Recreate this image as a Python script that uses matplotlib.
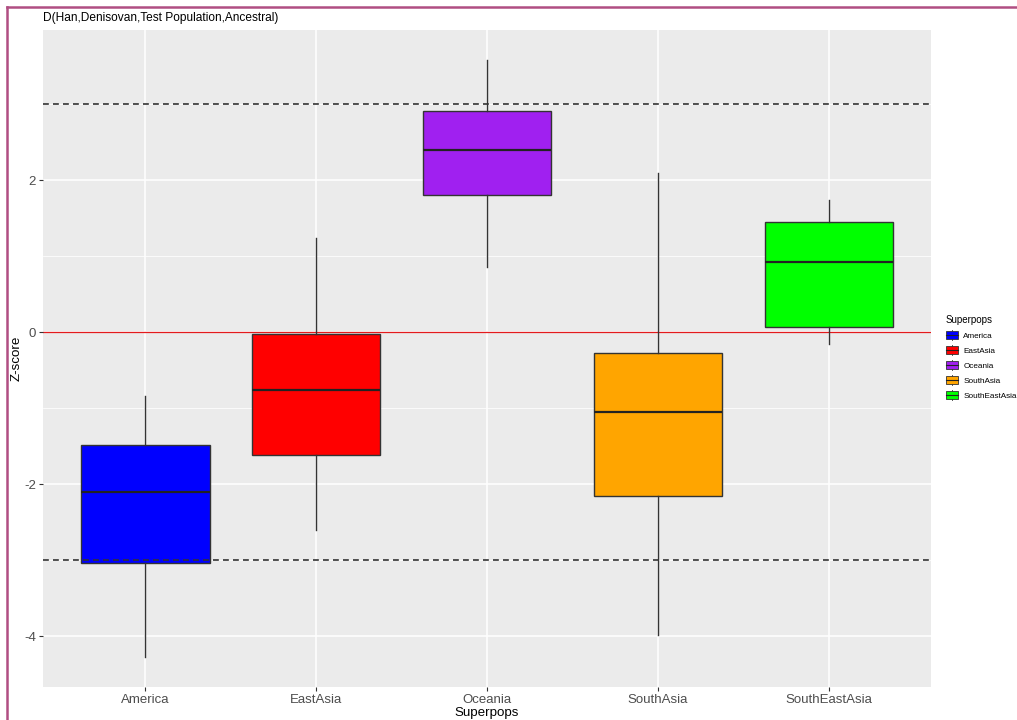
import matplotlib
matplotlib.use("Agg")
import matplotlib.pyplot as plt
from matplotlib.lines import Line2D
from matplotlib.patches import Rectangle
from matplotlib.legend_handler import HandlerBase

plt.rcParams['font.family'] = ['Liberation Sans', 'DejaVu Sans']

# Box summaries per super-population (Z-scores)
superpops = ["America", "EastAsia", "Oceania", "SouthAsia", "SouthEastAsia"]
whisker_low = [-4.27, -2.605, 0.85, -3.99, -0.16]
q1 = [-3.035, -1.612, 1.80, -2.155, 0.072]
median = [-2.10, -0.76, 2.398, -1.053, 0.923]
q3 = [-1.485, -0.026, 2.908, -0.28, 1.447]
whisker_high = [-0.845, 1.235, 3.58, 2.095, 1.737]
fills = ["#0000FF", "#FF0000", "#A020F0", "#FFA500", "#00FF00"]

threshold_lines = [-3, 3]
y_ticks = [-4, -2, 0, 2]

title = "D(Han,Denisovan,Test Population,Ancestral)"
x_label = "Superpops"
y_label = "Z-score"
legend_title = "Superpops"

W, H = 1017, 720
fig = plt.figure(figsize=(W / 100, H / 100), dpi=100)
ax = fig.add_axes([43 / W, 1 - 687 / H, 888 / W, 657 / H])
ax.set_facecolor("#EBEBEB")

n = len(superpops)
positions = list(range(1, n + 1))
stats = []
for i in range(n):
    stats.append(dict(med=median[i], q1=q1[i], q3=q3[i],
                      whislo=whisker_low[i], whishi=whisker_high[i],
                      fliers=[], label=superpops[i]))

# grid
for y in [-4, -3, -2, -1, 0, 1, 2, 3]:
    major = y in y_ticks
    ax.axhline(y, color="white", lw=1.1 if major else 0.55, zorder=0.5)
for x in positions:
    ax.axvline(x, color="white", lw=1.1, zorder=0.5)

bp = ax.bxp(stats, positions=positions, widths=0.75, patch_artist=True,
            showcaps=False, showfliers=False, manage_ticks=False,
            boxprops=dict(edgecolor="#333333", linewidth=1.0),
            whiskerprops=dict(color="#333333", linewidth=1.0),
            medianprops=dict(color="#222222", linewidth=1.6),
            zorder=2)
for patch, c in zip(bp["boxes"], fills):
    patch.set_facecolor(c)

# reference lines
for t in threshold_lines:
    ax.axhline(t, color="#333333", lw=1.2, ls=(0, (3.5, 2.5)), zorder=3)
ax.axhline(0, color="#E31A1C", lw=0.9, zorder=1.5)

ax.set_xlim(0.4, n + 0.6)
ax.set_ylim(-4.671, 3.974)
ax.set_xticks(positions)
ax.set_xticklabels(superpops)
ax.set_yticks(y_ticks)
ax.set_yticklabels([str(v) for v in y_ticks])
ax.tick_params(axis="both", colors="#333333", length=3, width=0.8,
               labelsize=9.5, labelcolor="#4D4D4D", pad=2)
for s in ax.spines.values():
    s.set_visible(False)

ax.set_xlabel(x_label, fontsize=9.6, color="black", labelpad=1)
ax.set_ylabel(y_label, fontsize=9.6, color="black")
ax.yaxis.set_label_coords((23 - 43) / 888, 0.5)

fig.text(43 / W, 1 - 18 / H, title, fontsize=8.6, color="black",
         ha="left", va="center")


class BoxKey(HandlerBase):
    def __init__(self, color):
        super().__init__()
        self.color = color

    def create_artists(self, legend, orig_handle, xdescent, ydescent,
                       width, height, fontsize, trans):
        cx = width / 2 - xdescent
        rect = Rectangle((-xdescent + width * 0.04, -ydescent + height * 0.02),
                         width * 0.92, height * 0.96, facecolor=self.color,
                         edgecolor="#333333", lw=0.6, transform=trans)
        v = Line2D([cx, cx], [-ydescent - height * 0.12, -ydescent + height * 1.12],
                   color="#333333", lw=0.6, transform=trans)
        m = Line2D([-xdescent + width * 0.04, -xdescent + width * 0.96],
                   [-ydescent + height / 2] * 2, color="#222222", lw=0.8,
                   transform=trans)
        return [v, rect, m]


handles = [Rectangle((0, 0), 1, 1) for _ in superpops]
handler_map = {h: BoxKey(c) for h, c in zip(handles, fills)}
leg = fig.legend(handles, superpops, handler_map=handler_map,
                 loc="upper left", bbox_to_anchor=(940 / W, 1 - 309 / H),
                 frameon=False, fontsize=5.9, title=legend_title,
                 title_fontsize=7.0, handlelength=1.6, handleheight=1.25,
                 handletextpad=0.55, labelspacing=0.72, borderpad=0.2)
leg._legend_box.align = "left"

# outer frame on the top and left edges
fig.add_artist(Line2D([6.5 / W, 1], [1 - 7 / H] * 2, color="#B04E82", lw=1.8,
                      transform=fig.transFigure))
fig.add_artist(Line2D([6.5 / W] * 2, [0, 1 - 7 / H], color="#B04E82", lw=1.8,
                      transform=fig.transFigure))

fig.savefig("out.png", dpi=100, facecolor="white")
